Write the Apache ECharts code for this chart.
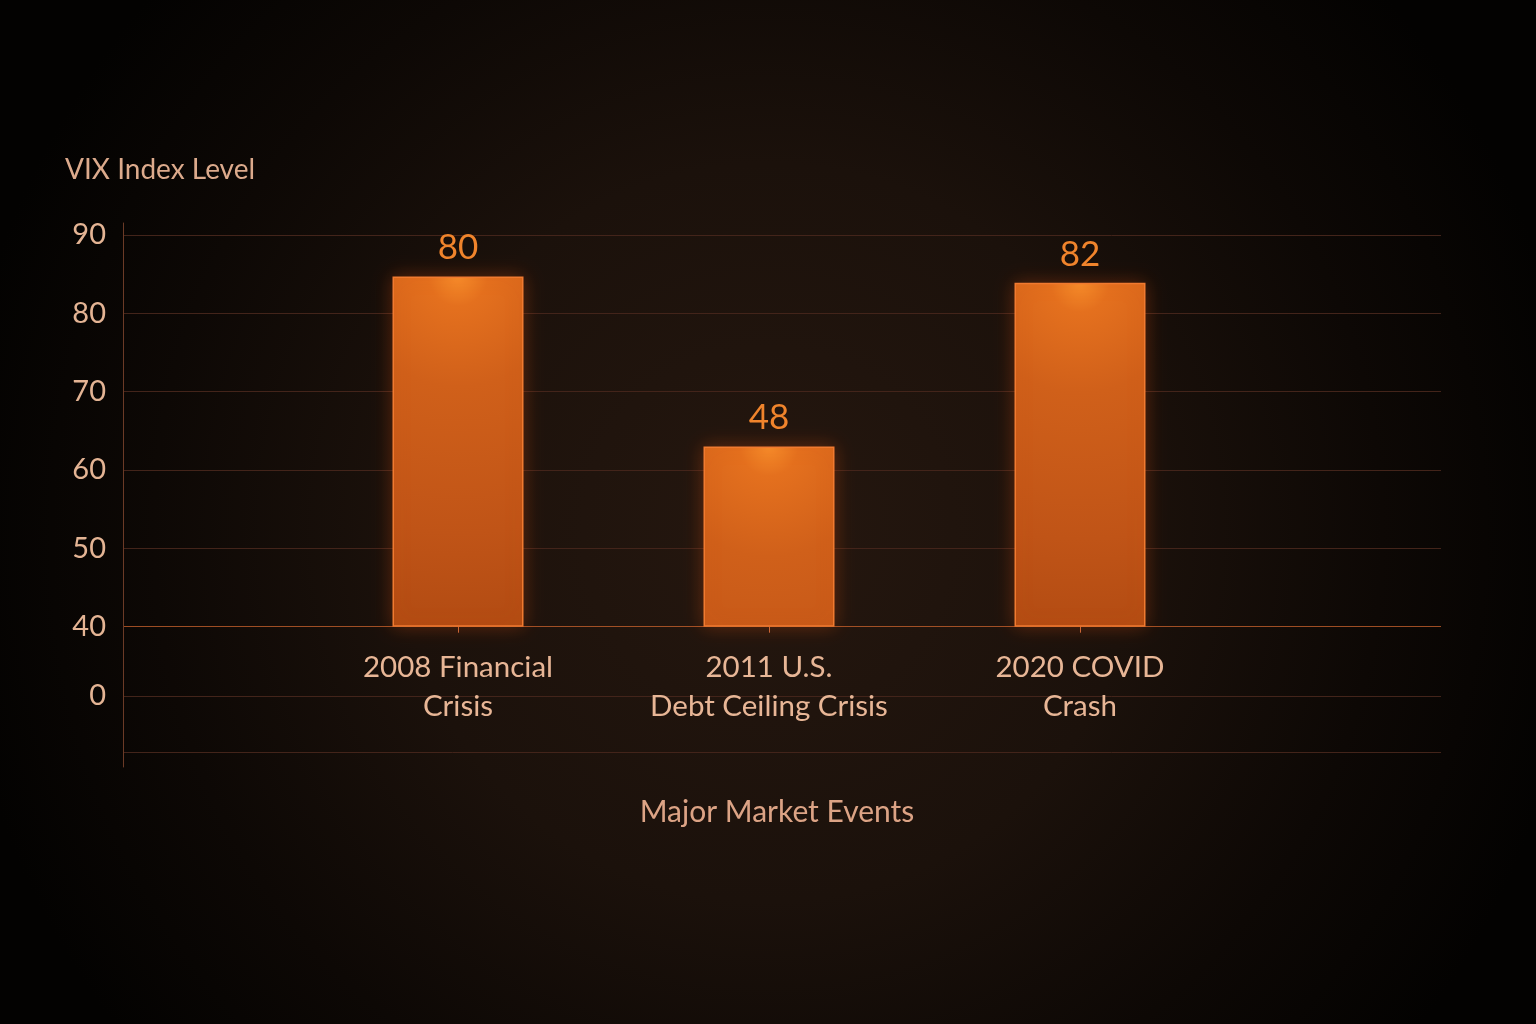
<!DOCTYPE html>
<html>
<head>
<meta charset="utf-8">
<style>
  html, body { margin: 0; padding: 0; background: #050302; }
  #chart { width: 1536px; height: 1024px; }
</style>
<script src="https://cdn.jsdelivr.net/npm/echarts@6/dist/echarts.min.js"></script>
</head>
<body>
<div id="chart"></div>
<script>
// ---- data ----
const categories = ['2008 Financial\nCrisis', '2011 U.S.\nDebt Ceiling Crisis', '2020 COVID\nCrash'];
const barLabels = [80, 48, 82];          // numbers printed above the bars
const barHeights = [84.7, 63.0, 83.9];   // bar tops as read against the y axis
const yTickLabels = [40, 50, 60, 70, 80, 90];
const yBreakLabel = 0;                   // label shown below the axis break
const yAxisTitle = 'VIX Index Level';
const xAxisTitle = 'Major Market Events';

// ---- broken-axis layout (display units on the left axis) ----
const BREAK_POS = 31.13;   // where the "0" tick sits on the compressed axis
const FLOOR_POS = 23.88;   // bottom rule
const AXIS_MIN = 22.06, AXIS_MAX = 91.53;

const font = 'Lato, "Open Sans", sans-serif';
const chart = echarts.init(document.getElementById('chart'));

const tickPositions = [FLOOR_POS, BREAK_POS].concat(yTickLabels);
const labelPositions = [BREAK_POS].concat(yTickLabels);
const gridColor = '#43241a';
const baseColor = 'rgba(205,100,45,0.75)';
const splitColors = tickPositions.map(v => (v === yTickLabels[0] ? baseColor : gridColor));

chart.setOption({
  backgroundColor: {
    type: 'radial', x: 0.5, y: 0.52, r: 0.8,
    colorStops: [
      { offset: 0, color: '#25170f' },
      { offset: 0.45, color: '#1b110b' },
      { offset: 0.75, color: '#0d0805' },
      { offset: 1, color: '#030201' }
    ]
  },
  animation: false,
  title: {
    text: yAxisTitle, left: 60, top: 151,
    textStyle: { color: '#dcaa8c', fontSize: 28, fontWeight: 'normal', fontFamily: font }
  },
  grid: [
    { left: 123, right: 95, top: 223, bottom: 257 },
    { left: 302.5, right: 300.5, top: 235, bottom: 397.3 }
  ],
  xAxis: [
    { gridIndex: 0, type: 'value', min: 0, max: 1, show: false },
    {
      gridIndex: 1, type: 'category', data: categories,
      axisLine: { show: false },
      axisTick: { show: true, alignWithLabel: true, length: 6, lineStyle: { color: '#c8683a' } },
      axisLabel: {
        color: '#e8b696', fontSize: 29.5, fontFamily: font, lineHeight: 39, margin: 21
      },
      name: xAxisTitle, nameLocation: 'middle', nameGap: 171,
      nameTextStyle: { color: '#dca385', fontSize: 30, fontFamily: font, padding: [0, 0, 0, 16] }
    }
  ],
  yAxis: [
    {
      gridIndex: 0, type: 'value', min: AXIS_MIN, max: AXIS_MAX,
      axisLine: { show: true, lineStyle: { color: '#6b3a26', width: 1 } },
      axisTick: { show: false, customValues: tickPositions },
      splitLine: { show: true, lineStyle: { color: splitColors, width: 1 } },
      axisLabel: {
        customValues: labelPositions,
        color: '#e4b494', fontSize: 29, fontFamily: font, margin: 17,
        formatter: v => (v < yTickLabels[0] ? String(yBreakLabel) : String(v))
      }
    },
    { gridIndex: 1, type: 'value', min: yTickLabels[0], max: yTickLabels[yTickLabels.length - 1],
      startValue: yTickLabels[0], show: false }
  ],
  series: [
    {
      type: 'bar', xAxisIndex: 1, yAxisIndex: 1,
      data: barHeights, barWidth: 131, clip: true,
      itemStyle: {
        color: {
          type: 'radial', x: 0.5, y: 0, r: 2.8,
          colorStops: [
            { offset: 0, color: '#f68c2a' },
            { offset: 0.08, color: '#e4701e' },
            { offset: 0.3, color: '#d0601a' },
            { offset: 0.7, color: '#c05417' },
            { offset: 1, color: '#b04a12' }
          ]
        },
        borderColor: '#f07a30', borderWidth: 1.5,
        shadowBlur: 18, shadowColor: 'rgba(240,90,20,0.3)'
      },
      label: {
        show: true, position: 'top', distance: 11,
        color: '#f0842c', fontSize: 35, fontFamily: font, lineHeight: 35,
        formatter: p => String(barLabels[p.dataIndex])
      }
    }
  ]
});
</script>
</body>
</html>
